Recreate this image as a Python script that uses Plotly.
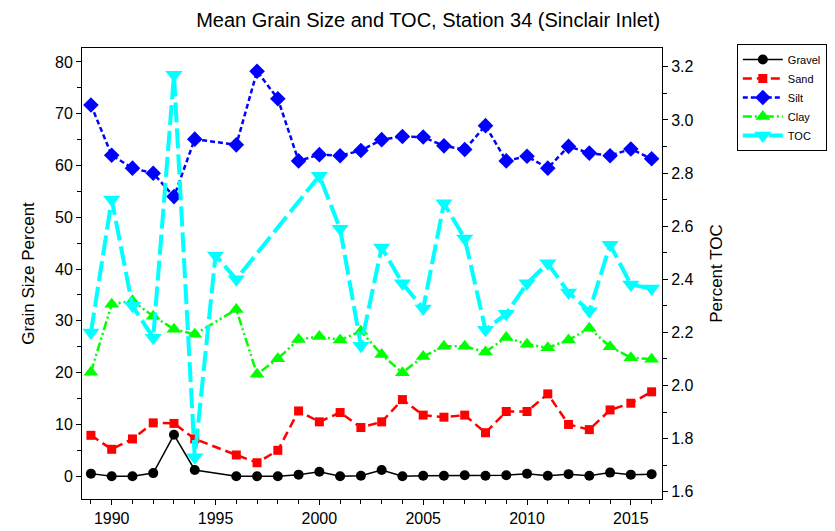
import plotly.graph_objects as go

# grain size samples (no 1995 sample)
years = [1989, 1990, 1991, 1992, 1993, 1994, 1996, 1997, 1998, 1999, 2000, 2001, 2002, 2003,
         2004, 2005, 2006, 2007, 2008, 2009, 2010, 2011, 2012, 2013, 2014, 2015, 2016]
gravel = [0.5, 0, 0, 0.6, 8.0, 1.2, 0, 0, 0, 0.3, 0.85, 0, 0.1, 1.2,
          0, 0.1, 0.1, 0.2, 0.1, 0.2, 0.5, 0.1, 0.4, 0.1, 0.7, 0.3, 0.4]
sand = [7.9, 5.2, 7.2, 10.3, 10.2, 7.2, 4.1, 2.6, 5.0, 12.6, 10.5, 12.3, 9.4, 10.5,
        14.8, 11.8, 11.4, 11.8, 8.4, 12.5, 12.5, 15.9, 10.0, 9.0, 12.8, 14.1, 16.3]
silt = [71.7, 62.0, 59.5, 58.5, 54.0, 65.1, 64.0, 78.2, 72.9, 60.9, 62.1, 61.9, 62.9, 65.0,
        65.6, 65.5, 63.8, 63.1, 67.7, 60.9, 61.8, 59.5, 63.7, 62.4, 61.9, 63.2, 61.3]
clay = [20.1, 33.2, 33.9, 30.9, 28.4, 27.4, 32.2, 19.7, 22.7, 26.4, 27.0, 26.3, 28.0, 23.5,
        20.0, 23.1, 25.1, 25.1, 24.0, 26.8, 25.5, 24.8, 26.3, 28.6, 25.0, 22.9, 22.6]

# TOC samples
toc_years = [1989, 1990, 1991, 1992, 1993, 1994, 1995, 1996, 2000, 2001, 2002, 2003, 2004,
             2005, 2006, 2007, 2008, 2009, 2010, 2011, 2012, 2013, 2014, 2015, 2016]
toc = [2.20, 2.70, 2.30, 2.18, 3.17, 1.73, 2.49, 2.40, 2.79, 2.59, 2.15, 2.52, 2.385,
       2.29, 2.686, 2.554, 2.21, 2.27, 2.385, 2.46, 2.35, 2.28, 2.53, 2.38, 2.365]

FONT = "Liberation Sans, Arial, sans-serif"

fig = go.Figure()

fig.add_trace(go.Scatter(
    x=years, y=gravel, name="Gravel", mode="lines+markers",
    line=dict(color="black", width=1.5),
    marker=dict(symbol="circle", size=10, color="black")
))
fig.add_trace(go.Scatter(
    x=years, y=sand, name="Sand", mode="lines+markers",
    line=dict(color="#FF0000", width=2.5, dash="9px,5px"),
    marker=dict(symbol="square", size=9, color="#FF0000")
))
fig.add_trace(go.Scatter(
    x=years, y=silt, name="Silt", mode="lines+markers",
    line=dict(color="#0000FF", width=2.5, dash="5px,3px"),
    marker=dict(symbol="diamond", size=12, color="#0000FF")
))
fig.add_trace(go.Scatter(
    x=years, y=clay, name="Clay", mode="lines+markers",
    line=dict(color="#00FF00", width=2.5, dash="9px,3px,2px,3px,2px,3px"),
    marker=dict(symbol="triangle-up", size=13, color="#00FF00")
))
fig.add_trace(go.Scatter(
    x=toc_years, y=toc, name="TOC", mode="lines+markers", yaxis="y2",
    line=dict(color="#00FFFF", width=4, dash="20px,6px"),
    marker=dict(symbol="triangle-down", size=15, color="#00FFFF")
))

axis_common = dict(
    showline=True, linecolor="black", linewidth=1,
    ticks="outside", ticklen=5, tickcolor="black",
    showgrid=False, zeroline=False,
    tickfont=dict(family=FONT, size=16, color="black"),
)

# page body adds an 8px offset, so the figure is 8px smaller and margins shifted
fig.update_layout(
    width=827, height=523,
    margin=dict(l=74, r=173, t=40, b=32, autoexpand=False),
    paper_bgcolor="white", plot_bgcolor="white",
    font=dict(family=FONT, color="black"),
    title=dict(
        text="Mean Grain Size and TOC, Station 34 (Sinclair Inlet)",
        x=0.508, xanchor="center", y=0.977, yanchor="middle",
        font=dict(family=FONT, size=20, color="black")
    ),
    xaxis=dict(
        **axis_common, range=[1988.57, 2016.5], tick0=1990, dtick=5, mirror=True,
        minor=dict(dtick=1, ticks="outside", ticklen=4, tickcolor="black", showgrid=False)
    ),
    yaxis=dict(
        **axis_common, range=[-4.4, 82.7], tick0=0, dtick=10,
        minor=dict(dtick=5, ticks="outside", ticklen=4, tickcolor="black", showgrid=False),
        title=dict(text="Grain Size Percent", font=dict(family=FONT, size=17, color="black"), standoff=16)
    ),
    yaxis2=dict(
        **axis_common, range=[1.5725, 3.271], tick0=1.6, dtick=0.2, tickformat=".1f",
        overlaying="y", side="right", anchor="x",
        minor=dict(dtick=0.1, ticks="outside", ticklen=4, tickcolor="black", showgrid=False),
        title=dict(text="Percent TOC", font=dict(family=FONT, size=17, color="black"), standoff=17)
    ),
    legend=dict(
        x=1.129, y=1.009, xanchor="left", yanchor="top",
        bordercolor="black", borderwidth=1, bgcolor="white",
        font=dict(family=FONT, size=11, color="black"),
        tracegroupgap=0, itemwidth=40
    ),
)

fig.write_html("out.html")
